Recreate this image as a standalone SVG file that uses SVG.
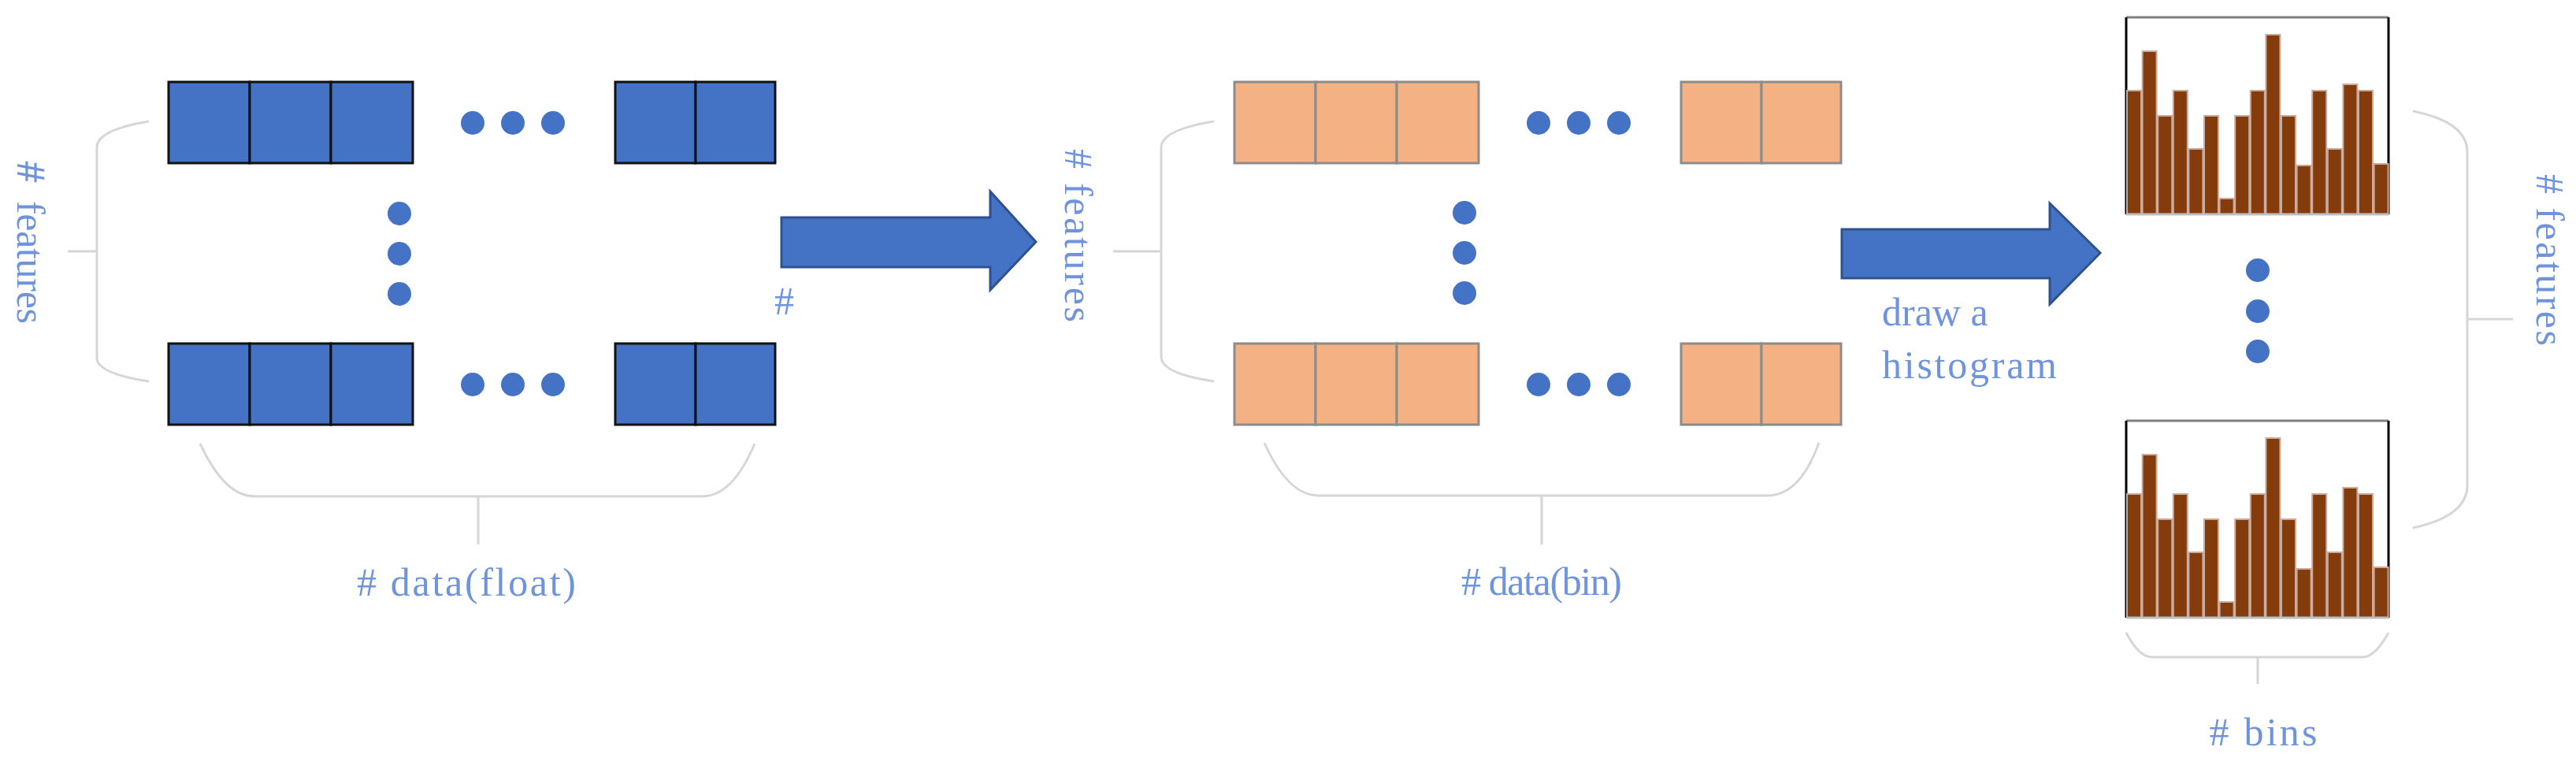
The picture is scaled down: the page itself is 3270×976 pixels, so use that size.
<svg xmlns="http://www.w3.org/2000/svg" width="3270" height="976" viewBox="0 0 3270 976">
<style>
.b{fill:#4472C4;stroke:#111;stroke-width:3}
.o{fill:#F4B183;stroke:#8C8C8C;stroke-width:3}
.d{fill:#4472C4}
.br{fill:none;stroke:#D6D6D6;stroke-width:3}
.ar{fill:#4472C4;stroke:#2F528F;stroke-width:3}
.t{font-family:"Liberation Serif",serif;fill:#7094DB;font-size:50px}
.bar{fill:#843C0C;stroke:#C9ABA0;stroke-width:2}
</style>
<defs>
<g id="row"><rect x="0" y="0" width="103" height="103"/><rect x="103" y="0" width="103" height="103"/><rect x="206" y="0" width="104" height="103"/><rect x="567" y="0" width="102" height="103"/><rect x="669" y="0" width="101" height="103"/></g>
<g id="hdots"><circle cx="386" cy="52" r="15" class="d"/><circle cx="437" cy="52" r="15" class="d"/><circle cx="488" cy="52" r="15" class="d"/></g>
<g id="hist">
<line x1="0" y1="0" x2="333" y2="0" stroke="#7F7F7F" stroke-width="3"/>
<line x1="0" y1="0" x2="0" y2="250" stroke="#000" stroke-width="3"/>
<line x1="333" y1="0" x2="333" y2="250" stroke="#000" stroke-width="3"/>
<rect class="bar" x="1" y="93" width="18" height="157"/>
<rect class="bar" x="20.6" y="43" width="18" height="207"/>
<rect class="bar" x="40.2" y="125" width="18" height="125"/>
<rect class="bar" x="59.8" y="93" width="18" height="157"/>
<rect class="bar" x="79.4" y="167" width="18" height="83"/>
<rect class="bar" x="99" y="125" width="18" height="125"/>
<rect class="bar" x="118.6" y="230" width="18" height="20"/>
<rect class="bar" x="138.2" y="125" width="18" height="125"/>
<rect class="bar" x="157.8" y="93" width="18" height="157"/>
<rect class="bar" x="177.4" y="22" width="18" height="228"/>
<rect class="bar" x="197" y="125" width="18" height="125"/>
<rect class="bar" x="216.6" y="188" width="18" height="62"/>
<rect class="bar" x="236.2" y="93" width="18" height="157"/>
<rect class="bar" x="255.8" y="167" width="18" height="83"/>
<rect class="bar" x="275.4" y="85" width="18" height="165"/>
<rect class="bar" x="295" y="93" width="18" height="157"/>
<rect class="bar" x="314.6" y="186" width="18" height="64"/>
<line x1="0" y1="250" x2="333" y2="250" stroke="#BFBFBF" stroke-width="3"/>
</g>
</defs>
<g id="float-matrix">
<g class="b"><use href="#row" x="214" y="104"/><use href="#row" x="214" y="436"/></g>
<use href="#hdots" x="214" y="104"/><use href="#hdots" x="214" y="436"/>
<circle cx="507" cy="271" r="15" class="d"/><circle cx="507" cy="322" r="15" class="d"/><circle cx="507" cy="373" r="15" class="d"/>
</g>
<g id="bin-matrix">
<g class="o"><use href="#row" x="1567" y="104"/><use href="#row" x="1567" y="436"/></g>
<use href="#hdots" x="1567" y="104"/><use href="#hdots" x="1567" y="436"/>
<circle cx="1859" cy="270" r="15" class="d"/><circle cx="1859" cy="321" r="15" class="d"/><circle cx="1859" cy="372" r="15" class="d"/>
</g>
<g id="histograms">
<use href="#hist" x="2699" y="22"/><use href="#hist" x="2699" y="534"/>
<circle cx="2866" cy="343" r="15" class="d"/><circle cx="2866" cy="395" r="15" class="d"/><circle cx="2866" cy="446" r="15" class="d"/>
</g>
<g id="connectors">
<path class="br" d="M189 154 Q123 165 123 187 V454 Q123 474 189 484 M86 319 H123"/>
<path class="br" d="M254 563 Q285 630 323 630 H891 Q930 630 958 563 M607 630 V691"/>
<path class="br" d="M1541 154 Q1474 165 1474 187 V453 Q1474 474 1541 484 M1413 319 H1474"/>
<path class="br" d="M1605 562 Q1635 629 1674 629 H2243 Q2285 629 2309 562 M1957 629 V691"/>
<path class="br" d="M3063 141 Q3132 155 3132 193 V616 Q3132 655 3063 670 M3132 405 H3190"/>
<path class="br" d="M2699 803 Q2715 834 2732 834 H2999 Q3015 834 3032 803 M2866 834 V868"/>
<path class="ar" d="M992 276 H1257 V243 L1315 307 L1257 368 V339 H992 Z"/>
<path class="ar" d="M2338 291 H2602 V258 L2666 321 L2602 386 V353 H2338 Z"/>
</g>
<g id="labels">
<text class="t" transform="translate(39,302) rotate(90)" text-anchor="middle" dominant-baseline="central" textLength="218">＃ features</text>
<text class="t" x="592" y="756" text-anchor="middle" textLength="278"># data(float)</text>
<text class="t" x="983" y="399" textLength="299"># </text>
<text class="t" transform="translate(1369,299) rotate(90)" text-anchor="middle" dominant-baseline="central" textLength="220"># features</text>
<text class="t" x="1957" y="755" text-anchor="middle" textLength="204"># data(bin)</text>
<text class="t" x="2389" y="413">draw a</text>
<text class="t" x="2389" y="480" textLength="222">histogram</text>
<text class="t" transform="translate(3237,330) rotate(90)" text-anchor="middle" dominant-baseline="central" textLength="218"># features</text>
<text class="t" x="2873" y="946" text-anchor="middle" textLength="137"># bins</text>
</g>
</svg>
